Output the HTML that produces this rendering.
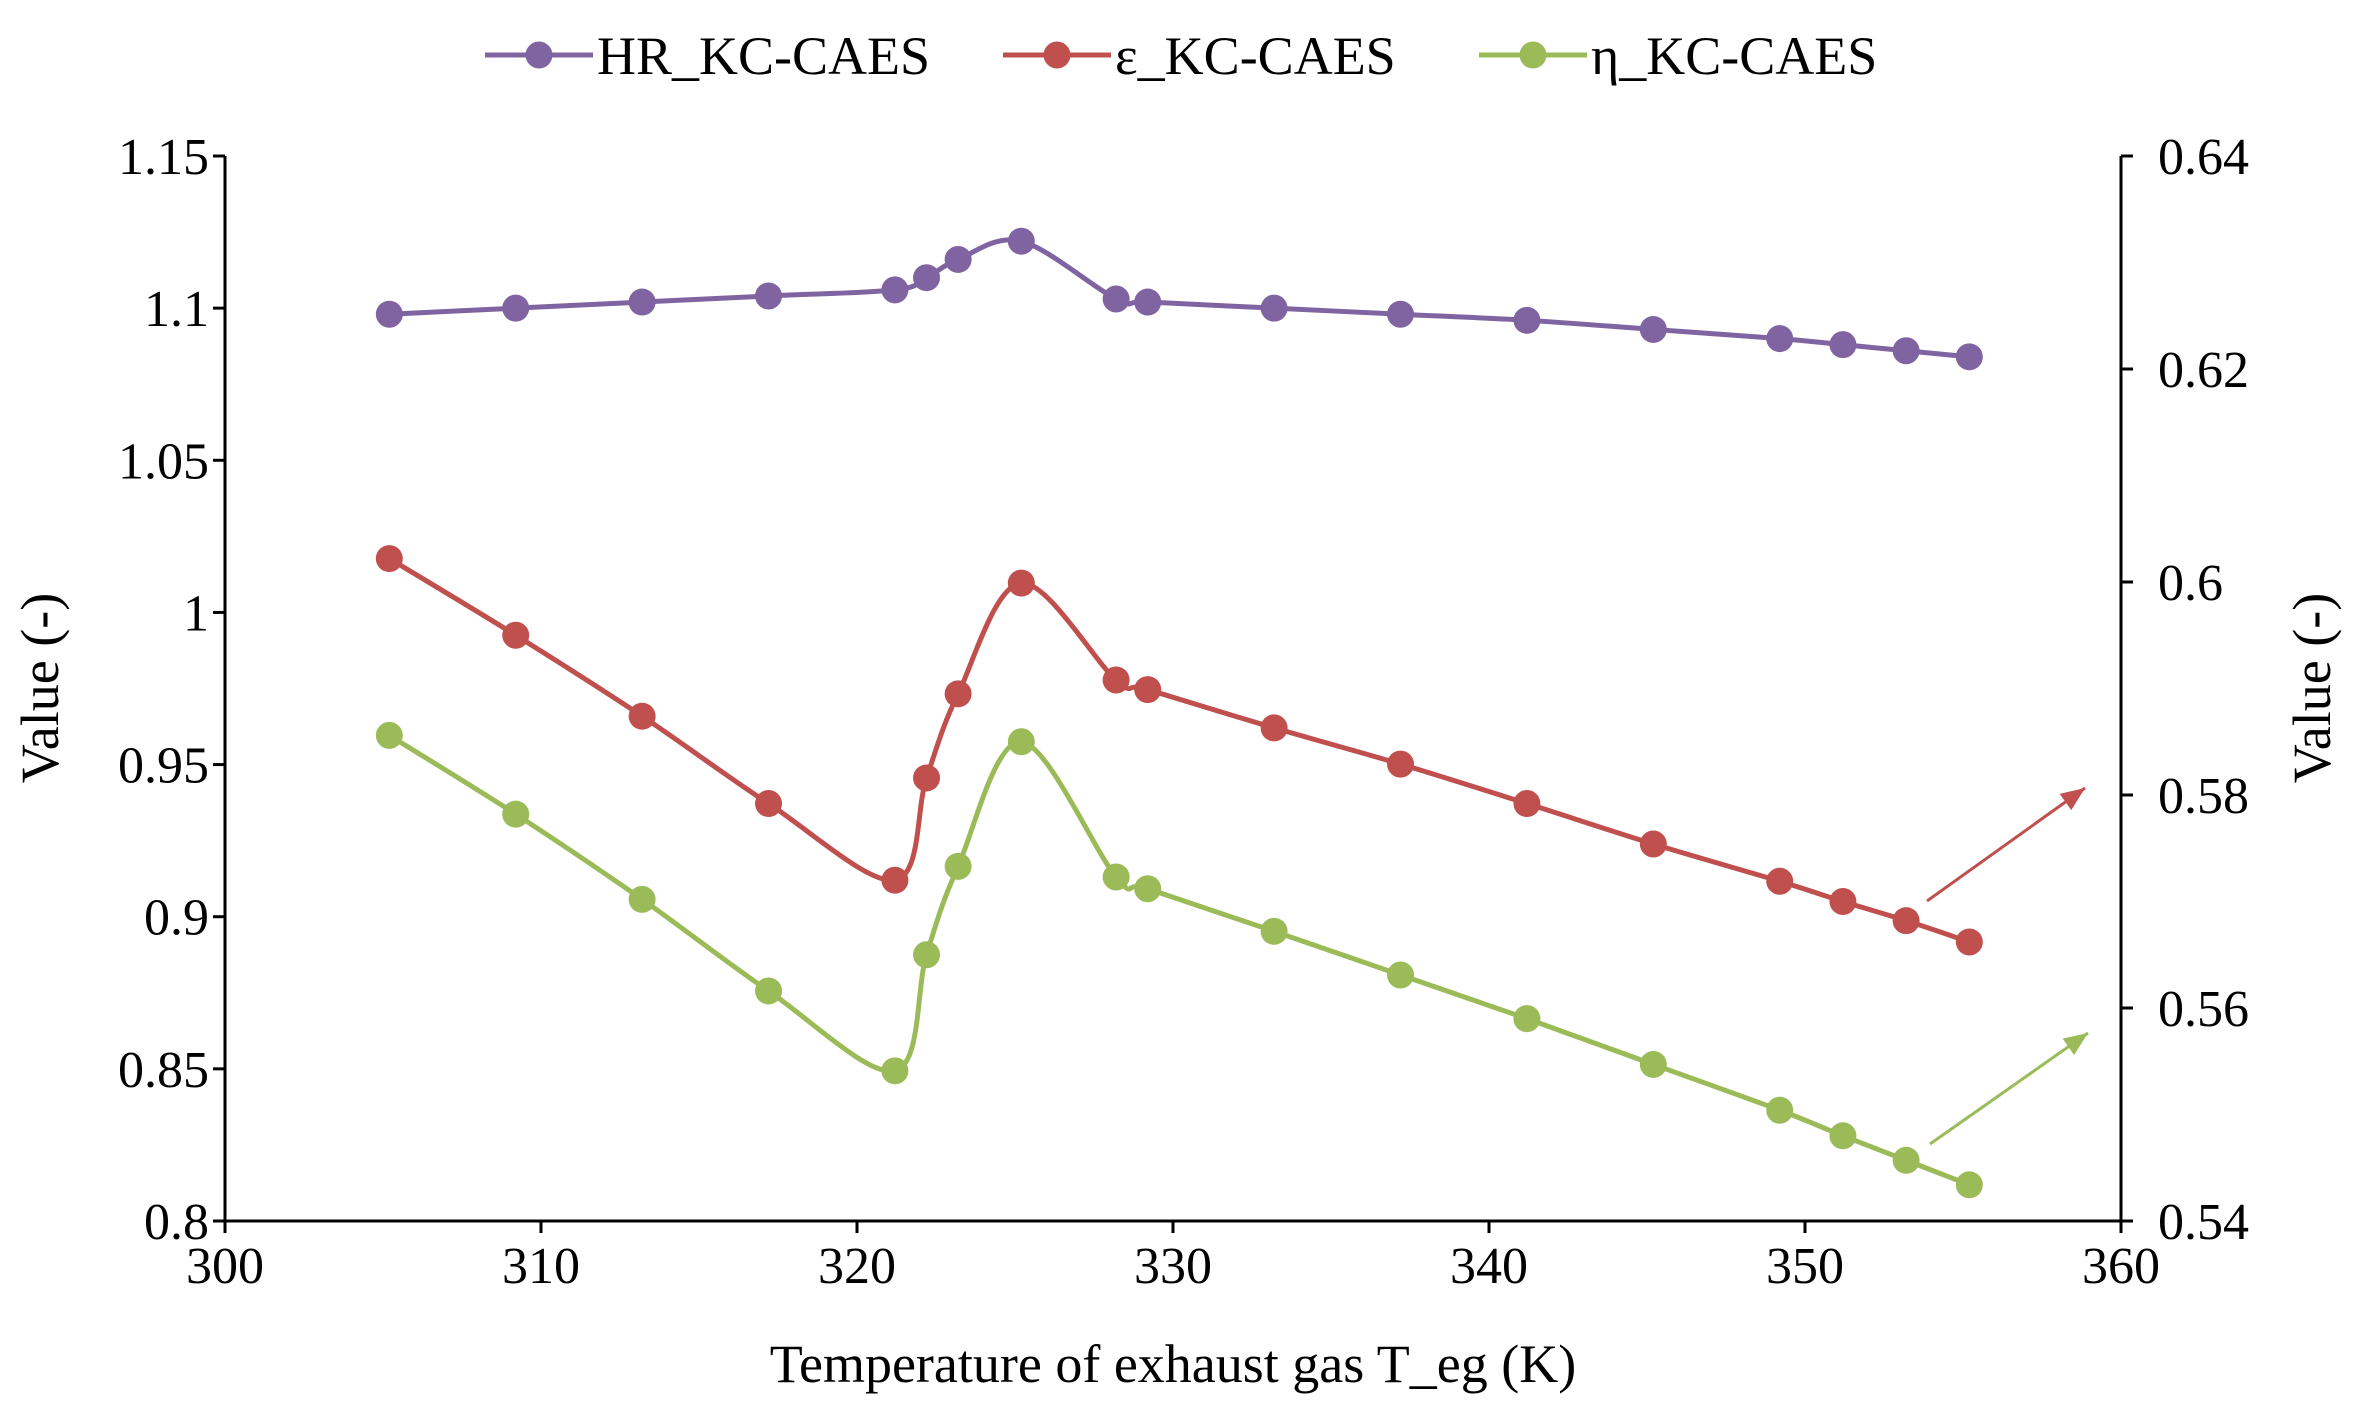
<!DOCTYPE html>
<html><head><meta charset="utf-8"><style>
html,body{margin:0;padding:0;background:#fff}
svg{display:block;font-family:"Liberation Serif",serif}
</style></head><body>
<svg id="chart" width="2355" height="1412" viewBox="0 0 2355 1412">
<g id="axes"></g><g id="series"></g><g id="legend"></g>
</svg>
<script>
const temps=[305.2,309.2,313.2,317.2,321.2,322.2,323.2,325.2,328.2,329.2,333.2,337.2,341.2,345.2,349.2,351.2,353.2,355.2];
const hrVals=[1.098,1.100,1.102,1.104,1.106,1.110,1.116,1.122,1.103,1.102,1.100,1.098,1.096,1.093,1.090,1.088,1.086,1.084];
const epsVals=[0.6022,0.5950,0.5874,0.5792,0.5720,0.5816,0.5895,0.5999,0.5908,0.5899,0.5863,0.5829,0.5792,0.5754,0.5719,0.5700,0.5682,0.5662];
const etaVals=[0.5856,0.5782,0.5702,0.5616,0.5541,0.5650,0.5733,0.5850,0.5723,0.5712,0.5672,0.5631,0.5590,0.5547,0.5504,0.5480,0.5457,0.5434];
const xTicks=[300,310,320,330,340,350,360];
const yLTicks=["0.8","0.85","0.9","0.95","1","1.05","1.1","1.15"];
const yRTicks=["0.54","0.56","0.58","0.6","0.62","0.64"];
const NS="http://www.w3.org/2000/svg";
const X0=225,X1=2121,YB=1221,YT=156;
const sx=v=>X0+(v-300)/60*(X1-X0);
const syL=v=>YB-(v-0.8)/0.35*(YB-YT);
const syR=v=>YB-(v-0.54)/0.1*(YB-YT);
function mk(t,a,p){const e=document.createElementNS(NS,t);for(const k in a)e.setAttribute(k,a[k]);(p||document.getElementById('axes')).appendChild(e);return e;}
let e=mk('line',{x1:X0,y1:YT,x2:X0,y2:YB,stroke:'#000','stroke-width':3});

e=mk('line',{x1:X1,y1:YT,x2:X1,y2:YB,stroke:'#000','stroke-width':3});

e=mk('line',{x1:X0,y1:YB,x2:X1,y2:YB,stroke:'#000','stroke-width':3});

xTicks.forEach(v=>{const x=sx(v);mk('line',{x1:x,y1:YB,x2:x,y2:YB+12,stroke:'#000','stroke-width':3});
 const t=mk('text',{x:x,y:YB+62,'text-anchor':'middle','font-size':52});t.textContent=v;
 });
yLTicks.forEach(s=>{const y=syL(parseFloat(s));mk('line',{x1:X0-12,y1:y,x2:X0,y2:y,stroke:'#000','stroke-width':3});
 const t=mk('text',{x:X0-16,y:y+18,'text-anchor':'end','font-size':52});t.textContent=s;
 });
yRTicks.forEach(s=>{const y=syR(parseFloat(s));mk('line',{x1:X1,y1:y,x2:X1+12,y2:y,stroke:'#000','stroke-width':3});
 const t=mk('text',{x:X1+37,y:y+18,'text-anchor':'start','font-size':52});t.textContent=s;
 });
e=mk('text',{x:(X0+X1)/2,y:1382,'text-anchor':'middle','font-size':54});e.textContent='Temperature of exhaust gas T_eg (K)';

e=mk('text',{x:0,y:0,'text-anchor':'middle','font-size':54,transform:'translate(58,688) rotate(-90)'});e.textContent='Value (-)';

e=mk('text',{x:0,y:0,'text-anchor':'middle','font-size':54,transform:'translate(2330,688) rotate(-90)'});e.textContent='Value (-)';

function spline(pts){let d=`M${pts[0][0]},${pts[0][1]}`;for(let i=0;i<pts.length-1;i++){const p0=pts[i-1]||pts[i],p1=pts[i],p2=pts[i+1],p3=pts[i+2]||p2;
 const c1=[p1[0]+(p2[0]-p0[0])/6,p1[1]+(p2[1]-p0[1])/6],c2=[p2[0]-(p3[0]-p1[0])/6,p2[1]-(p3[1]-p1[1])/6];
 d+=` C${c1[0]},${c1[1]} ${c2[0]},${c2[1]} ${p2[0]},${p2[1]}`;}return d;}
const sg=document.getElementById('series');
function series(vals,sy,col,name){const g=mk('g',{},sg);
 const pts=vals.map((v,i)=>[sx(temps[i]),sy(v)]);
 const p=mk('path',{d:spline(pts),fill:'none',stroke:col,'stroke-width':5},g);
 pts.forEach(q=>{const c=mk('circle',{cx:q[0],cy:q[1],r:13.5,fill:col},g);});}
series(hrVals,syL,'#8064a2','hr-series');
series(epsVals,syR,'#c0504d','epsilon-series');
series(etaVals,syR,'#9bbb59','eta-series');
function arrow(x1,y1,x2,y2,col,name){const g=mk('g',{},sg);
 mk('line',{x1,y1,x2,y2,stroke:col,'stroke-width':3},g);const a=Math.atan2(y2-y1,x2-x1),L=24,W=10;
 const bx=x2-L*Math.cos(a),by=y2-L*Math.sin(a);
 mk('polygon',{points:`${x2},${y2} ${bx+W*Math.sin(a)},${by-W*Math.cos(a)} ${bx-W*Math.sin(a)},${by+W*Math.cos(a)}`,fill:col},g);}
arrow(1927,901,2085,788,'#c0504d','epsilon-right-axis-arrow');
arrow(1930,1144,2088,1033,'#9bbb59','eta-right-axis-arrow');
const lg=document.getElementById('legend');
[["HR_KC-CAES",'#8064a2',485],["ε_KC-CAES",'#c0504d',1003],["η_KC-CAES",'#9bbb59',1479]].forEach(([lab,col,x])=>{
 const g=mk('g',{},lg);
 mk('line',{x1:x,y1:55,x2:x+108,y2:55,stroke:col,'stroke-width':5},g);mk('circle',{cx:x+54,cy:55,r:13.5,fill:col},g);
 const t=mk('text',{x:x+112,y:74,'font-size':54},g);t.textContent=lab;});
</script>
</body></html>
